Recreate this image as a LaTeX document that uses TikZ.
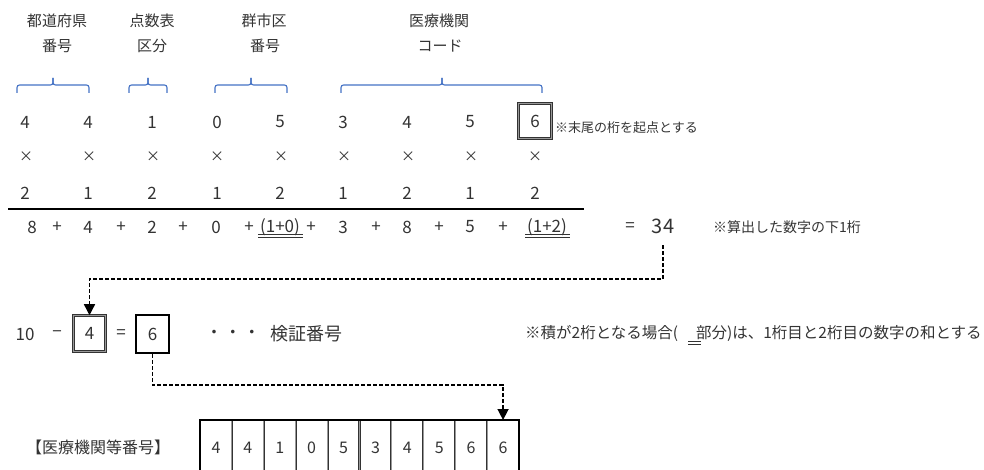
\documentclass[tikz,border=0pt]{standalone}
\usepackage{fontspec}
\setmainfont{Noto Sans CJK JP}
\usetikzlibrary{arrows.meta}
\definecolor{braceblue}{HTML}{4472C4}
\definecolor{txt}{HTML}{333333}
\begin{document}
\begin{tikzpicture}[x=1pt,y=-1pt,
  every node/.style={inner sep=0, text=txt},
  lbl/.style={font=\fontsize{15}{15}\selectfont},
  dig/.style={font=\fontsize{17}{17}\selectfont},
  times/.style={font=\fontsize{14}{14}\selectfont},
  notea/.style={font=\fontsize{13}{13}\selectfont, anchor=west},
  noteb/.style={font=\fontsize{14}{14}\selectfont, anchor=west},
  notec/.style={font=\fontsize{15.5}{15.5}\selectfont, anchor=west},
  bracepath/.style={draw=braceblue, line width=1.1, rounded corners=2.5},
  dotbox/.style={draw=black!80, double=black!40, double distance=1.3, line width=0.55},
  solidbox/.style={draw=black, line width=1.8},
  dotdiv/.style={draw=black!80, double=black!40, double distance=1.1, line width=0.5},
  conn/.style={draw=black, line width=1.5, dash pattern=on 4 off 2},
  arrowend/.style={-{Triangle[length=11,width=11]}},
  dbl/.style={draw=txt, line width=0.9}
]
\useasboundingbox (0,0) rectangle (984,470);

% top labels
\node[lbl] (l1a) at (57,21) {都道府県};
\node[lbl] (l1b) at (57,46) {番号};
\node[lbl] (l2a) at (152,21) {点数表};
\node[lbl] (l2b) at (152,46) {区分};
\node[lbl] (l3a) at (264,21) {群市区};
\node[lbl] (l3b) at (265,46) {番号};
\node[lbl] (l4a) at (439,21) {医療機関};
\node[lbl] (l4b) at (440,46) {コード};

% braces
\foreach \l/\m/\r in {17/53/89, 129/148/167, 215/251/287, 341/442/542}{
  \draw[bracepath] (\l,93) -- (\l,85) -- (\m,85) -- (\m,78);
  \draw[bracepath] (\m,78) -- (\m,85) -- (\r,85) -- (\r,93);
}

% row 1
\foreach \x/\d [count=\i] in {25/4,88/4,152/1,217/0,280/5,343/3,407/4,470/5}
  \node[dig] (a\i) at (\x,122) {\d};
\node[dig, dotbox, minimum width=33, minimum height=35] (a9) at (535,121) {6};
\node[notea] (n1) at (555,128) {※末尾の桁を起点とする};

% row 2
\foreach \x [count=\i] in {26,89,153,217,281,344,408,471,535}
  \node[times] (m\i) at (\x,157) {×};

% row 3
\foreach \x/\d [count=\i] in {25/2,88/1,152/2,217/1,280/2,343/1,407/2,470/1,535/2}
  \node[dig] (w\i) at (\x,193) {\d};

% sum line
\draw[line width=2] (8,209) -- (584,209);

% sum row
\foreach \x/\t [count=\i] in {32/8,57/+,88/4,121/+,152/2,183/+,216/0,249/+,280/(1+0),311/+,343/3,376/+,407/8,439/+,470/5,503/+,547/(1+2),630/=}
  \node[dig] (s\i) at (\x,227) {\t};
\node[font=\fontsize{20}{20}\selectfont] (s34) at (663,226) {34};
\node[noteb] (n2) at (713,227) {※算出した数字の下1桁};
\draw[dbl] (258,234) -- (303,234);
\draw[dbl] (258,237) -- (303,237);
\draw[dbl] (525,234) -- (570,234);
\draw[dbl] (525,237) -- (570,237);

% check digit row
\node[dig] (t10) at (25,334) {10};
\node[dig] (tm) at (57,334) {−};
\node[dig, dotbox, minimum width=32, minimum height=36] (b4) at (89.5,333.5) {4};
\node[dig] (teq) at (121,334) {=};
\node[dig, solidbox, minimum width=33, minimum height=38] (b6) at (152.5,334) {6};
\node[dig] (dots) at (233,334) {・\hspace{2pt}・\hspace{2pt}・};
\node[font=\fontsize{18}{18}\selectfont] (kensho) at (306,334) {検証番号};
\node[notec] (n3) at (525,333) {※積が2桁となる場合(\hspace{18pt}部分)は、1桁目と2桁目の数字の和とする};
\draw[dbl] (688,341) -- (701,341);
\draw[dbl] (688,344) -- (701,344);

% connector 1
\coordinate (c1a) at (663,245);
\coordinate (c1b) at (663,279);
\draw[conn, arrowend] (c1a) -- (c1b) -| (b4.north);

% bottom label and box
\node[font=\fontsize{16}{16}\selectfont] (lab) at (98,447) {【医療機関等番号】};
\draw[line width=2] (200,472) -- (200,420) -- (519,420) -- (519,472);
\foreach \i in {1,...,9}
  \draw[dotdiv] (200+31.9*\i,421) -- (200+31.9*\i,472);
\foreach \d [count=\i] in {4,4,1,0,5,3,4,5,6,6}
  \node[font=\fontsize{16}{16}\selectfont] (f\i) at (200+31.9*\i-15.95,448) {\d};
\coordinate (celltop) at (f10 |- 0,420);

% connector 2
\coordinate (c2b) at (152.5,385);
\draw[conn, arrowend] (b6.south) -- (c2b) -| (celltop);
\end{tikzpicture}
\end{document}
